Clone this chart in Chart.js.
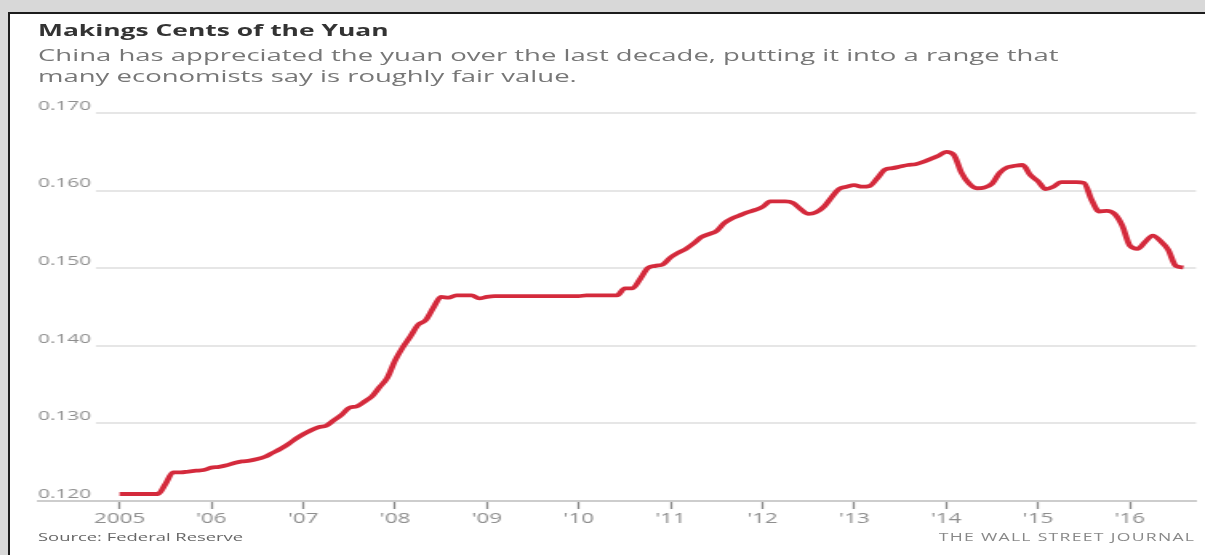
<!DOCTYPE html>
<html>
<head>
<meta charset="utf-8">
<script src="https://cdn.jsdelivr.net/npm/chart.js@4.4.1/dist/chart.umd.min.js"></script>
<style>
    html, body { margin: 0; padding: 0; }
    body {
        width: 1205px; height: 555px; overflow: hidden; position: relative;
        background: #d8d8d8;
        font-family: "Open Sans", sans-serif;
    }
    #panel {
        position: absolute; left: 8px; top: 12px; right: -10px; bottom: -10px;
        background: #fff;
        border-left: 2px solid #1c1c1c; border-top: 2px solid #1c1c1c;
    }
    /* the whole graphic is stretched sideways, like the source image */
    #yuanChart {
        position: absolute; left: 0; top: 0;
        width: 1205px !important; height: 555px !important;
    }
    .txt {
        position: absolute; white-space: nowrap;
        font-family: "Open Sans", sans-serif;
        transform-origin: 0 0; transform: scaleX(1.6);
    }
    #title { left: 38px; top: 18px; font-weight: 700; font-size: 16.5px; color: #333; }
    #subtitle { left: 38px; top: 44px; font-size: 17.2px; line-height: 21px; color: #777; }
    #source { left: 38px; top: 529px; font-size: 11.5px; color: #666; }
    #wsj { right: 10px; top: 529px; font-size: 11px; color: #888; letter-spacing: 0.8px; transform-origin: 100% 0; }
</style>
</head>
<body>
<div id="panel"></div>
<canvas id="yuanChart" width="753" height="555"></canvas>
<div id="title" class="txt">Makings Cents of the Yuan</div>
<div id="subtitle" class="txt">China has appreciated the yuan over the last decade, putting it into a range that<br>many economists say is roughly fair value.</div>
<div id="source" class="txt">Source: Federal Reserve</div>
<div id="wsj" class="txt">THE WALL STREET JOURNAL</div>

<script>
const SX = 1.6; // horizontal stretch of the graphic

// monthly dollars per yuan, Jan 2005 .. Aug 2016
const startYear = 2005;
const rate = [
    0.1209, 0.1209, 0.1209, 0.1209, 0.1209, 0.1209, 0.1222, 0.1237, 0.1237, 0.1238, 0.1239, 0.1240,
    0.1243, 0.1244, 0.1246, 0.1249, 0.1251, 0.1252, 0.1254, 0.1257, 0.1262, 0.1267, 0.1273, 0.1280,
    0.1286, 0.1291, 0.1295, 0.1297, 0.1304, 0.1311, 0.1320, 0.1322, 0.1328, 0.1335, 0.1347, 0.1359,
    0.1381, 0.1398, 0.1412, 0.1427, 0.1433, 0.1449, 0.1463, 0.1462, 0.1465, 0.1465, 0.1465, 0.1461,
    0.1463, 0.1464, 0.1464, 0.1464, 0.1464, 0.1464, 0.1464, 0.1464, 0.1464, 0.1464, 0.1464, 0.1464,
    0.1464, 0.1465, 0.1465, 0.1465, 0.1465, 0.1465, 0.1474, 0.1474, 0.1486, 0.1500, 0.1503, 0.1505,
    0.1514, 0.1520, 0.1525, 0.1532, 0.1540, 0.1544, 0.1548, 0.1558, 0.1564, 0.1568, 0.1572, 0.1575,
    0.1579, 0.1586, 0.1586, 0.1586, 0.1584, 0.1576, 0.1570, 0.1572, 0.1579, 0.1591, 0.1602, 0.1605,
    0.1607, 0.1605, 0.1606, 0.1616, 0.1627, 0.1629, 0.1631, 0.1633, 0.1634, 0.1637, 0.1641, 0.1645,
    0.1650, 0.1646, 0.1623, 0.1609, 0.1603, 0.1604, 0.1609, 0.1623, 0.1630, 0.1632, 0.1633, 0.1620,
    0.1612, 0.1602, 0.1605, 0.1611, 0.1611, 0.1611, 0.1610, 0.1588, 0.1573, 0.1574, 0.1570, 0.1555,
    0.1529, 0.1525, 0.1534, 0.1542, 0.1535, 0.1524, 0.1503, 0.1501
];

const yearTicks = [2005, 2006, 2007, 2008, 2009, 2010, 2011, 2012, 2013, 2014, 2015, 2016];
const valueTicks = [0.120, 0.130, 0.140, 0.150, 0.160, 0.170];

Chart.defaults.font.family = '"Open Sans", sans-serif';

const ctx = document.getElementById('yuanChart').getContext('2d');
const yuanChart = new Chart(ctx, {
    type: 'line',
    data: {
        datasets: [{
            data: rate.map((v, i) => ({ x: startYear + i / 12, y: v })),
            borderColor: '#d42a3c',
            borderWidth: 3.8,
            pointRadius: 0,
            cubicInterpolationMode: 'monotone',
            fill: false
        }]
    },
    options: {
        responsive: false,
        animation: false,
        events: [],
        layout: { padding: { left: 38 / SX, right: (1205 - 1196) / SX, top: 113, bottom: 0 } },
        plugins: { legend: { display: false }, tooltip: { enabled: false } },
        scales: {
            x: {
                type: 'linear',
                min: 2004.113,
                max: 2016.72,
                afterBuildTicks: scale => { scale.ticks = yearTicks.map(v => ({ value: v })); },
                afterFit: scale => { scale.height = 54; },
                grid: { drawOnChartArea: false, drawTicks: true, tickLength: 8, tickColor: '#8a8a8a', tickWidth: 1.3 },
                border: { display: true, color: '#cdcdcd', width: 2 },
                ticks: {
                    padding: 2,
                    color: '#8e8e8e',
                    font: { size: 14 },
                    maxRotation: 0,
                    autoSkip: false,
                    callback: v => v === 2005 ? '2005' : "'" + String(v).slice(2)
                }
            },
            y: {
                min: 0.12,
                max: 0.17,
                afterBuildTicks: scale => { scale.ticks = valueTicks.map(v => ({ value: v })); },
                afterFit: scale => { scale.width = 0; },
                grid: { color: '#e6e6e6', lineWidth: 2, drawTicks: false },
                border: { display: false },
                ticks: {
                    mirror: true,
                    padding: 0,
                    labelOffset: -7,
                    color: '#8e8e8e',
                    font: { size: 13 },
                    showLabelBackdrop: true,
                    backdropColor: c => c.tick && c.tick.value === 0.12 ? 'rgba(0,0,0,0)' : '#fff',
                    backdropPadding: { top: 0, bottom: 4, left: 0, right: 3 },
                    callback: v => v.toFixed(3)
                }
            }
        }
    }
});
</script>
</body>
</html>
